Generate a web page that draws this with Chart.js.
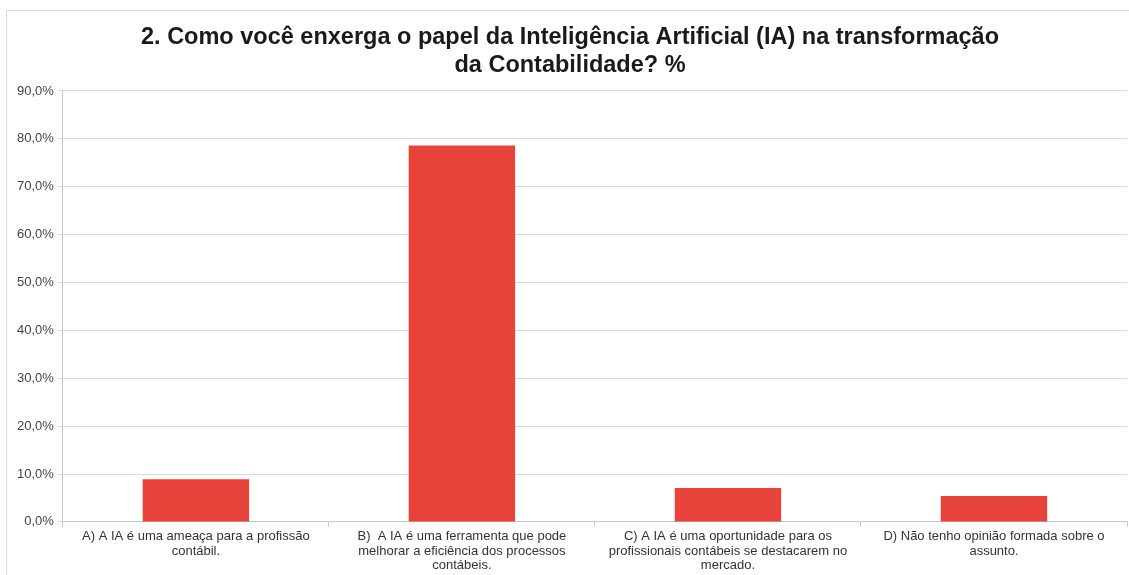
<!DOCTYPE html>
<html>
<head>
<meta charset="utf-8">
<script src="https://cdn.jsdelivr.net/npm/chart.js@4"></script>
<style>
  html, body { margin: 0; padding: 0; background: #fff; }
  #frame {
    position: absolute; left: 6px; top: 10px; width: 1140px; height: 580px;
    border: 1px solid #dcdcdc; box-sizing: border-box;
  }
  #wrap { position: absolute; left: 0; top: 0; width: 1129px; height: 575px; }
</style>
</head>
<body>
<div id="frame"></div>
<div id="wrap"><canvas id="chartCanvas"></canvas></div>
<script>
// Constants
const TITLE_LINES = [
  "2. Como você enxerga o papel da Inteligência Artificial (IA) na transformação",
  "da Contabilidade? %",
];
const CATEGORIES = [
  ["A) A IA é uma ameaça para a profissão", "contábil."],
  ["B)  A IA é uma ferramenta que pode", "melhorar a eficiência dos processos", "contábeis."],
  ["C) A IA é uma oportunidade para os", "profissionais contábeis se destacarem no", "mercado."],
  ["D) Não tenho opinião formada sobre o", "assunto."],
];
const PERCENTS = [8.9, 78.6, 7.1, 5.4];
const Y_MIN = 0;
const Y_MAX = 90;
const Y_STEP = 10;
const BAR_COLOR = "#e8433a";
const FONT = "Liberation Sans, Arial";

// Format ticks like "80,0%"
function formatPercent(value) {
  return value.toFixed(1).replace(".", ",") + "%";
}

// Create chart
function createChart() {
  const ctx = document.getElementById("chartCanvas").getContext("2d");
  new Chart(ctx, {
    type: "bar",
    data: {
      labels: CATEGORIES,
      datasets: [
        {
          data: PERCENTS,
          backgroundColor: BAR_COLOR,
          barPercentage: 0.4,
          categoryPercentage: 1,
        },
      ],
    },
    options: {
      responsive: true,
      maintainAspectRatio: false,
      animation: false,
      layout: { padding: { left: 13, right: 2, top: 12, bottom: 0 } },
      plugins: {
        legend: { display: false },
        tooltip: { enabled: false },
        title: {
          display: true,
          text: TITLE_LINES,
          color: "#1a1a1a",
          font: { family: FONT, size: 23.5, weight: "bold", lineHeight: 1.17 },
          padding: { top: 12, bottom: 12 },
        },
      },
      scales: {
        x: {
          grid: {
            drawOnChartArea: false,
            drawTicks: true,
            tickLength: 5,
            color: "#c8c8c8",
          },
          border: { color: "#c8c8c8" },
          ticks: {
            color: "#333",
            maxRotation: 0,
            autoSkip: false,
            padding: 3,
            font: { family: FONT, size: 13, lineHeight: 1.08 },
          },
        },
        y: {
          min: Y_MIN,
          max: Y_MAX,
          grid: { color: "#dadada", tickLength: 5 },
          border: { color: "#c8c8c8" },
          ticks: {
            stepSize: Y_STEP,
            color: "#444",
            padding: 4,
            font: { family: FONT, size: 13 },
            callback: formatPercent,
          },
        },
      },
    },
  });
}

createChart();
</script>
</body>
</html>
